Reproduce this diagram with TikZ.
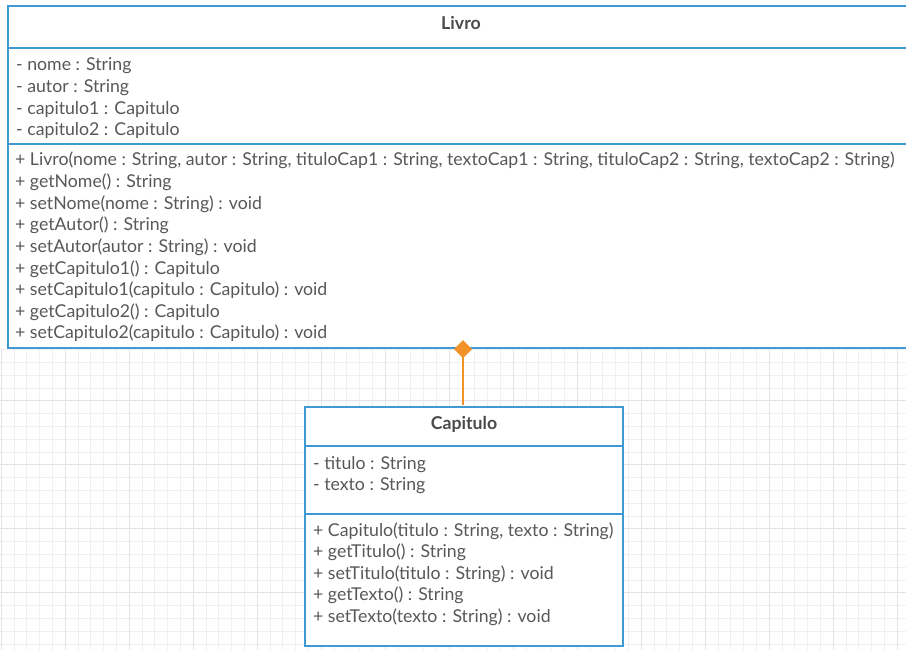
\documentclass[tikz,border=0pt]{standalone}
\usepackage{fontspec}
\setmainfont{Lato}
\usepackage{tikz}
\usetikzlibrary{arrows.meta}

\definecolor{umlblue}{RGB}{62,154,212}
\definecolor{umlorange}{RGB}{244,146,42}
\definecolor{umltext}{RGB}{88,88,88}
\definecolor{gridminor}{RGB}{240,240,240}
\definecolor{gridmajor}{RGB}{228,228,228}

\tikzset{
  classbox/.style={draw=umlblue, line width=2.4pt, fill=white, rectangle, inner sep=0pt},
  member/.style={anchor=base west, inner sep=0pt, text=umltext, font=\fontsize{17.7}{20}\selectfont},
  classname/.style={anchor=base, inner sep=0pt, text=umltext!85!black, font=\fontsize{17.7}{20}\selectfont\bfseries},
}

\begin{document}
\begin{tikzpicture}[x=1pt, y=-1pt]
        \useasboundingbox (0,0) rectangle (906,650);
        \fill[white] (0,0) rectangle (906,650);
        % grid
        \foreach \i in {0,...,70} \draw[gridminor, line width=0.6pt] (1+\i*12.8,348) -- (1+\i*12.8,650);
        \foreach \i in {0,...,23} \draw[gridminor, line width=0.6pt] (0,349.4+\i*12.8) -- (906,349.4+\i*12.8);
        \foreach \i in {0,...,14} \draw[gridmajor, line width=0.7pt] (1+\i*64,348) -- (1+\i*64,650);
        \foreach \i in {0,...,4} \draw[gridmajor, line width=0.7pt] (0,400+\i*64) -- (906,400+\i*64);

        % Livro
        \node[classbox, minimum width=904pt, minimum height=342pt] (livro) at (460,177) {};
        \draw[umlblue, line width=2.4pt] (8,48) -- (912,48);
        \draw[umlblue, line width=2.4pt] (8,144) -- (912,144);
        \node[classname] (livroname) at (461,30) {Livro};
        \foreach \t [count=\i] in {- nome : String, - autor : String, - capitulo1 : Capitulo, - capitulo2 : Capitulo}
            \node[member] (livroattr\i) at (16,71+\i*21.6-21.6) {\t};
        \foreach \t [count=\i] in {{+ Livro(nome : String, autor : String, tituloCap1 : String, textoCap1 : String, tituloCap2 : String, textoCap2 : String)},
            + getNome() : String, {+ setNome(nome : String) : void}, + getAutor() : String, {+ setAutor(autor : String) : void},
            + getCapitulo1() : Capitulo, {+ setCapitulo1(capitulo : Capitulo) : void}, + getCapitulo2() : Capitulo,
            {+ setCapitulo2(capitulo : Capitulo) : void}}
            \node[member] (livrometh\i) at (15,166+\i*21.6-21.6) {\t};

        % Capitulo
        \node[classbox, minimum width=318pt, minimum height=239pt] (capitulo) at (464,526.5) {};
        \draw[umlblue, line width=2.4pt] (capitulo.west |- 0,446) -- (capitulo.east |- 0,446);
        \draw[umlblue, line width=2.4pt] (capitulo.west |- 0,514) -- (capitulo.east |- 0,514);
        \node[classname] (capituloname) at (464,429) {Capitulo};
        \foreach \t [count=\i] in {- titulo : String, - texto : String}
            \node[member] (capattr\i) at (313,469+\i*21.6-21.6) {\t};
        \foreach \t [count=\i] in {{+ Capitulo(titulo : String, texto : String)}, + getTitulo() : String,
            {+ setTitulo(titulo : String) : void}, + getTexto() : String, {+ setTexto(texto : String) : void}}
            \node[member] (capmeth\i) at (313,536+\i*21.6-21.6) {\t};

        % composicao
        \draw[umlorange, line width=2pt, -{Diamond[length=18pt, width=18pt]}, shorten >=-9pt, shorten <=1.2pt]
            (capitulo.north -| 463,0) -- (livro.south -| 463,0);
    \end{tikzpicture}
\end{document}
